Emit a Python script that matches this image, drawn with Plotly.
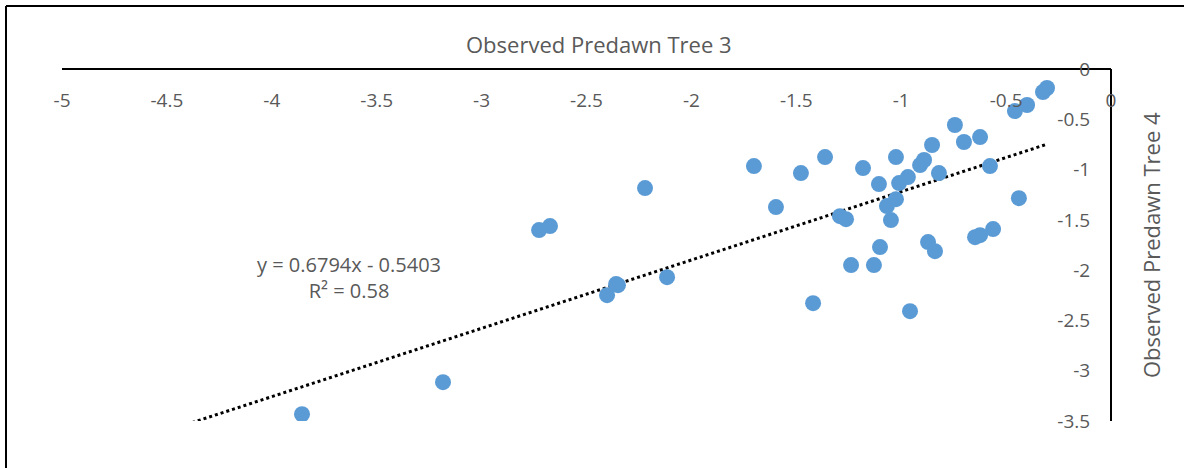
import plotly.graph_objects as go

W, H = 1184, 468

# Observed predawn water potential (Tree 3 on x, Tree 4 on y)
tree3 = [-3.856, -3.184, -2.726, -2.674, -2.221, -2.402, -2.359, -2.350, -2.116,
         -1.702, -1.478, -1.363, -1.597, -1.420, -1.292, -1.263, -1.239, -1.182,
         -1.025, -1.106, -1.010, -0.968, -0.910, -0.891, -0.853, -0.820, -1.025,
         -1.068, -1.049, -1.101, -1.130, -0.872, -0.839, -0.648, -0.624, -0.562,
         -0.577, -0.439, -0.701, -0.624, -0.744, -0.458, -0.400, -0.324, -0.305,
         -0.958]
tree4 = [-3.433, -3.114, -1.602, -1.562, -1.184, -2.249, -2.139, -2.149, -2.070,
         -0.965, -1.035, -0.876, -1.373, -2.328, -1.463, -1.493, -1.950, -0.985,
         -0.876, -1.144, -1.134, -1.075, -0.955, -0.905, -0.756, -1.035, -1.294,
         -1.363, -1.502, -1.771, -1.950, -1.721, -1.811, -1.672, -1.652, -1.592,
         -0.965, -1.284, -0.726, -0.677, -0.557, -0.418, -0.358, -0.229, -0.189,
         -2.408]

# Linear trendline as printed on the chart
slope, intercept = 0.6794, -0.5403
trend_x = [-4.38, max(tree3)]
trend_y = [slope * v + intercept for v in trend_x]

x_ticks = [-5, -4.5, -4, -3.5, -3, -2.5, -2, -1.5, -1, -0.5, 0]
y_ticks = [0, -0.5, -1, -1.5, -2, -2.5, -3, -3.5]

FONT = "Open Sans"
GREY = "#595959"

# plot area in pixels
L, R, T, B = 62, 1111, 69, 421

fig = go.Figure()
fig.add_trace(go.Scatter(x=trend_x, y=trend_y, mode="lines",
                         line=dict(color="black", width=3, dash="dot"),
                         hoverinfo="skip", showlegend=False))
fig.add_trace(go.Scatter(x=tree3, y=tree4, mode="markers",
                         marker=dict(color="#5B9BD5", size=16, line=dict(width=0)),
                         showlegend=False))

fig.update_layout(
    width=W, height=H,
    margin=dict(l=L, r=W - R, t=T, b=H - B),
    paper_bgcolor="white", plot_bgcolor="white",
    font=dict(family=FONT, color=GREY, size=19),
    xaxis=dict(range=[-5, 0], anchor="free", position=1, side="bottom",
               tickvals=x_ticks, ticktext=[f"{v:g}" for v in x_ticks],
               ticks="", ticklabelstandoff=14,
               showgrid=False, zeroline=False,
               showline=True, linecolor="black", linewidth=2,
               tickfont=dict(family=FONT, size=19, color=GREY)),
    yaxis=dict(range=[-3.5, 0], anchor="free", position=1, side="left",
               tickvals=y_ticks, ticktext=[f"{v:g}" for v in y_ticks],
               ticks="", ticklabelstandoff=16,
               showgrid=False, zeroline=False,
               showline=True, linecolor="black", linewidth=2,
               tickfont=dict(family=FONT, size=19, color=GREY)),
)

def px(xp):
    return (xp - L) / (R - L)

def py(yp):
    return (B - yp) / (B - T)

fig.add_annotation(x=px(599), y=py(44), xref="paper", yref="paper",
                   text="Observed Predawn Tree 3", showarrow=False,
                   font=dict(family=FONT, size=22, color=GREY),
                   xanchor="center", yanchor="middle")
fig.add_annotation(x=px(1151), y=py(245), xref="paper", yref="paper",
                   text="Observed Predawn Tree 4", showarrow=False, textangle=-90,
                   font=dict(family=FONT, size=22, color=GREY),
                   xanchor="center", yanchor="middle")
fig.add_annotation(x=px(349), y=py(277), xref="paper", yref="paper",
                   text="y = 0.6794x - 0.5403<br>R² = 0.58", showarrow=False,
                   font=dict(family=FONT, size=20, color=GREY),
                   align="center", xanchor="center", yanchor="middle")

# outer chart border (left and top visible)
fig.add_shape(type="line", xref="paper", yref="paper",
              x0=px(6), x1=px(1190), y0=py(6), y1=py(6),
              line=dict(color="black", width=2))
fig.add_shape(type="line", xref="paper", yref="paper",
              x0=px(6), x1=px(6), y0=py(6), y1=py(480),
              line=dict(color="black", width=2))

fig.write_html("out.html")
